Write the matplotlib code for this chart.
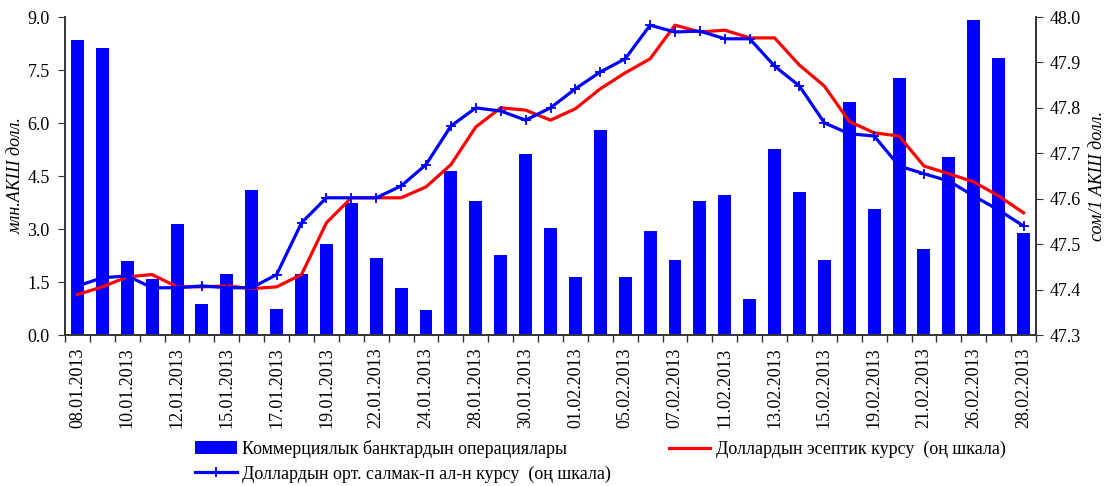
import matplotlib
matplotlib.use("Agg")
import matplotlib.pyplot as plt
import numpy as np

dates = ["08.01.2013", "09.01.2013", "10.01.2013", "11.01.2013", "12.01.2013", "14.01.2013",
         "15.01.2013", "16.01.2013", "17.01.2013", "18.01.2013", "19.01.2013", "21.01.2013",
         "22.01.2013", "23.01.2013", "24.01.2013", "25.01.2013", "28.01.2013", "29.01.2013",
         "30.01.2013", "31.01.2013", "01.02.2013", "04.02.2013", "05.02.2013", "06.02.2013",
         "07.02.2013", "08.02.2013", "11.02.2013", "12.02.2013", "13.02.2013", "14.02.2013",
         "15.02.2013", "18.02.2013", "19.02.2013", "20.02.2013", "21.02.2013", "22.02.2013",
         "26.02.2013", "27.02.2013", "28.02.2013"]

volumes = [8.35, 8.12, 2.09, 1.58, 3.14, 0.88, 1.73, 4.10, 0.74, 1.73, 2.58, 3.74, 2.18,
           1.33, 0.71, 4.64, 3.79, 2.26, 5.12, 3.03, 1.64, 5.80, 1.64, 2.94, 2.12, 3.79,
           3.96, 1.02, 5.26, 4.05, 2.12, 6.59, 3.57, 7.27, 2.43, 5.04, 8.92, 7.84, 2.89]

official_rate = [47.389, 47.406, 47.428, 47.433, 47.406, 47.406, 47.408, 47.402, 47.406,
                 47.433, 47.547, 47.602, 47.602, 47.602, 47.626, 47.675, 47.758, 47.800,
                 47.795, 47.773, 47.798, 47.842, 47.877, 47.908, 47.982, 47.967, 47.971,
                 47.954, 47.954, 47.894, 47.848, 47.770, 47.745, 47.738, 47.672, 47.655,
                 47.637, 47.606, 47.569]

weighted_rate = [47.408, 47.426, 47.430, 47.404, 47.404, 47.408, 47.404, 47.404, 47.433,
                 47.547, 47.602, 47.602, 47.602, 47.628, 47.675, 47.760, 47.800, 47.793,
                 47.773, 47.800, 47.842, 47.879, 47.908, 47.982, 47.967, 47.969, 47.952,
                 47.952, 47.892, 47.848, 47.767, 47.743, 47.738, 47.672, 47.655, 47.639,
                 47.606, 47.575, 47.540]

label_bars = "Коммерциялык банктардын операциялары"
label_red = "Доллардын эсептик курсу  (оң шкала)"
label_blue = "Доллардын орт. салмак-п ал-н курсу  (оң шкала)"

plt.rcParams['font.family'] = ['Liberation Serif', 'DejaVu Serif']
plt.rcParams['font.size'] = 13

fig = plt.figure(figsize=(11.11, 4.86), dpi=100)
ax = fig.add_axes([65/1111, 1-335/486, (1036-65)/1111, (335-17)/486])
ax2 = ax.twinx()

x = np.arange(len(dates))
bars = ax.bar(x, volumes, width=0.52, color='#0000FF', label=label_bars, zorder=2)
ax.set_ylim(0, 9.0)
yt = np.arange(0, 9.01, 1.5)
ax.set_yticks(yt)
ax.set_yticklabels([f"{v:.1f}" for v in yt])
ax.set_xlim(-0.5, len(dates) - 0.5)
ax.set_xticks(x[::2])
ax.set_xticklabels(dates[::2], rotation=90)
ax.set_xticks(np.arange(-0.5, len(dates), 1), minor=True)
ax.tick_params(axis='x', which='major', length=0, pad=9)
ax.tick_params(axis='x', which='minor', length=5, width=1, direction='out', color='#333333')
ax.tick_params(axis='y', length=5, direction='out', color='#333333', pad=6)
ax.set_ylabel("млн.АКШ долл.", style='italic', fontsize=13, labelpad=2)

l_red, = ax2.plot(x, official_rate, color='#FF0000', lw=2.3, label=label_red, zorder=3)
l_blue, = ax2.plot(x, weighted_rate, color='#0000FF', lw=2.3, marker='+', ms=7, mew=1.3,
                   label=label_blue, zorder=4)
ax2.set_ylim(47.3, 48.0)
yt2 = np.arange(47.3, 48.001, 0.1)
ax2.set_yticks(yt2)
ax2.set_yticklabels([f"{v:.1f}" for v in yt2])
ax2.tick_params(axis='y', length=5, direction='out', color='#333333', pad=5)
ax2.set_ylabel("сом/1 АКШ долл.", style='italic', fontsize=13, rotation=90, labelpad=6)

for a in (ax, ax2):
    a.spines['top'].set_visible(False)
    for s in ('left', 'right', 'bottom'):
        a.spines[s].set_color('#333333')
        a.spines[s].set_linewidth(1.2)

leg = fig.legend([bars, l_blue, l_red], [label_bars, label_blue, label_red],
                 ncol=2, loc='upper left', bbox_to_anchor=(195/1111, (486-440)/486),
                 frameon=False, fontsize=13, handlelength=2.3, handletextpad=0.3,
                 columnspacing=3.2, labelspacing=0.4, borderpad=0, borderaxespad=0)

fig.savefig("out.png", dpi=100)
